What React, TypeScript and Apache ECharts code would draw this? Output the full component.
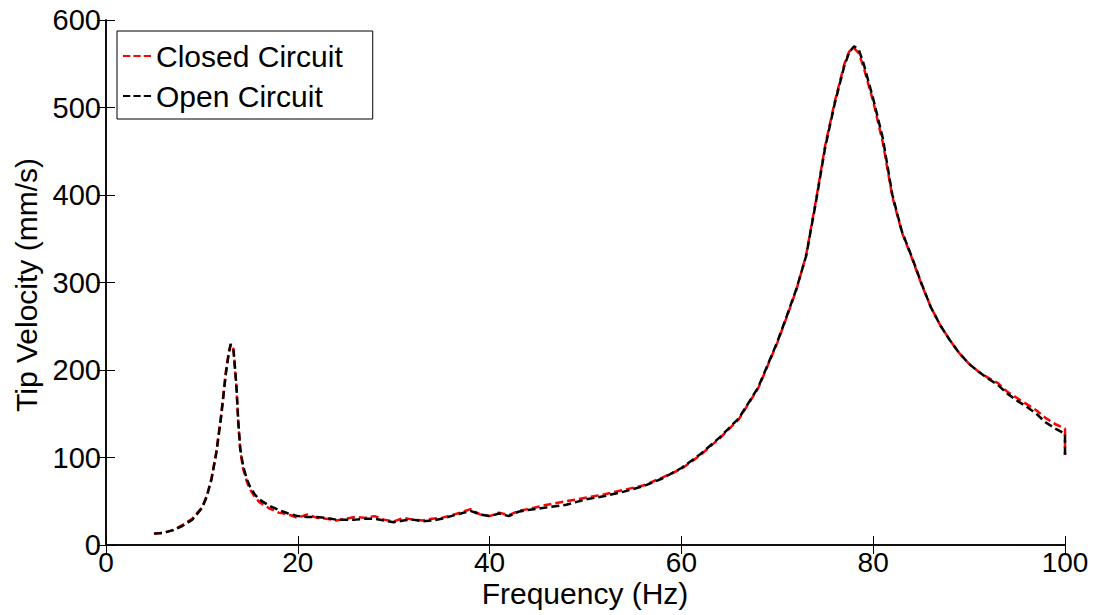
import React, { useEffect, useRef } from "react";
import * as echarts from "echarts";

const freq = [5, 6, 7, 8, 9, 10, 10.5, 11, 11.5, 12, 12.5, 12.8, 13, 13.3, 13.6, 13.8, 14, 14.3, 14.7, 15, 15.5, 16, 17, 18, 19, 20, 21, 22, 23, 24, 25, 26, 27, 28, 29, 30, 31, 32, 33, 34, 35, 36, 37, 38, 39, 40, 41, 42, 43, 44, 46, 48, 50, 52, 54, 56, 58, 60, 62, 64, 66, 68, 70, 71, 72, 73, 74, 75, 76, 77, 77.5, 78, 78.5, 79, 80, 81, 82, 83, 84, 85, 86, 87, 88, 89, 90, 91, 92, 93, 94, 95, 96, 97, 98, 99, 100, 100];

const closedCircuit = [13, 14, 17, 23, 30, 43, 56, 76, 106, 148, 198, 220, 230, 224, 180, 138, 108, 87, 72, 64, 55, 49, 42, 37, 35, 31, 35, 31, 30, 28, 30, 32, 31, 33, 29, 27, 31, 29, 28, 30, 31, 34, 37, 41, 35, 33, 37, 34, 39, 41, 46, 50, 54, 58, 63, 68, 77, 87, 103, 122, 144, 179, 231, 261, 292, 331, 392, 457, 507, 550, 564, 568, 562, 546, 507, 460, 398, 357, 329, 299, 272, 251, 234, 219, 207, 198, 191, 185, 175, 168, 161, 154, 145, 138, 133, 103];

const openCircuit = [13, 14, 17, 22, 29, 42, 55, 75, 105, 146, 196, 219, 229, 222, 182, 140, 110, 90, 75, 67, 58, 52, 45, 40, 36, 33, 32, 32, 31, 29, 29, 29, 30, 30, 28, 26, 28, 29, 27, 28, 30, 33, 36, 39, 35, 33, 36, 33, 38, 40, 43, 46, 52, 56, 61, 67, 76, 88, 104, 123, 145, 180, 232, 262, 293, 330, 390, 455, 505, 548, 563, 570, 566, 550, 510, 465, 400, 358, 330, 300, 272, 251, 234, 219, 207, 198, 190, 183, 173, 165, 158, 150, 140, 133, 127, 103];

const xTicks = [0, 20, 40, 60, 80, 100];
const yTicks = [0, 100, 200, 300, 400, 500, 600];

const FONT = "Liberation Sans, Arial, Helvetica, sans-serif";
const DASH_ICON = "path://M0,0h7v2h-7z M10,0h7v2h-7z M20,0h7v2h-7z";

export default function App() {
  const ref = useRef<HTMLDivElement>(null);
  useEffect(() => {
    if (!ref.current) return;
    const chart = echarts.init(ref.current, undefined, { renderer: "svg" });
    const axisLine = { show: true, lineStyle: { color: "#000", width: 1.5 } };
    const tick = { show: true, inside: true, length: 9, lineStyle: { color: "#000", width: 1 } };
    const xMin = xTicks[0], xMax = xTicks[xTicks.length - 1];
    const yMin = yTicks[0], yMax = yTicks[yTicks.length - 1];
    chart.setOption({
      animation: false,
      backgroundColor: "#fff",
      grid: { left: 106, right: 29, top: 20, bottom: 70, containLabel: false },
      legend: {
        left: 117,
        top: 31,
        orient: "vertical",
        backgroundColor: "#fff",
        borderColor: "#000",
        borderWidth: 1,
        padding: [10, 30, 8, 6],
        itemGap: 10,
        itemWidth: 28,
        itemHeight: 3,
        icon: DASH_ICON,
        textStyle: { fontFamily: FONT, fontSize: 30, color: "#000" },
        data: ["Closed Circuit", "Open Circuit"],
      },
      xAxis: [
        {
          type: "value",
          min: xMin,
          max: xMax,
          interval: 20,
          position: "bottom",
          axisLine,
          axisTick: tick,
          splitLine: { show: false },
          axisLabel: { fontFamily: FONT, fontSize: 28, color: "#000", margin: 3 },
        },
        {
          type: "value",
          min: xMin,
          max: xMax,
          interval: 20,
          position: "top",
          axisLine,
          axisTick: tick,
          splitLine: { show: false },
          axisLabel: { show: false },
        },
      ],
      yAxis: [
        {
          type: "value",
          min: yMin,
          max: yMax,
          interval: 100,
          position: "left",
          axisLine,
          axisTick: tick,
          splitLine: { show: false },
          axisLabel: { fontFamily: FONT, fontSize: 29, color: "#000", margin: 5 },
        },
        {
          type: "value",
          min: yMin,
          max: yMax,
          interval: 100,
          position: "right",
          axisLine,
          axisTick: tick,
          splitLine: { show: false },
          axisLabel: { show: false },
        },
      ],
      graphic: [
        {
          type: "text",
          x: 585,
          y: 593,
          style: {
            text: "Frequency (Hz)",
            fontFamily: FONT,
            fontSize: 30,
            fill: "#000",
            align: "center",
            verticalAlign: "middle",
          },
        },
        {
          type: "text",
          x: 26,
          y: 285,
          rotation: Math.PI / 2,
          style: {
            text: "Tip Velocity (mm/s)",
            fontFamily: FONT,
            fontSize: 30,
            fill: "#000",
            align: "center",
            verticalAlign: "middle",
          },
        },
      ],
      series: [
        {
          name: "Closed Circuit",
          type: "line",
          xAxisIndex: 0,
          yAxisIndex: 0,
          symbol: "none",
          smooth: false,
          lineStyle: { color: "#ff0000", width: 2.5, type: [8, 4] },
          itemStyle: { color: "#ff0000" },
          data: freq.map((f, i) => [f, closedCircuit[i]]),
        },
        {
          name: "Open Circuit",
          type: "line",
          xAxisIndex: 0,
          yAxisIndex: 0,
          symbol: "none",
          smooth: false,
          lineStyle: { color: "#000000", width: 2.5, type: [8, 4] },
          itemStyle: { color: "#000000" },
          data: freq.map((f, i) => [f, openCircuit[i]]),
        },
      ],
    });
    return () => chart.dispose();
  }, []);
  return <div ref={ref} style={{ width: 1094, height: 615, position: "absolute", left: 0, top: 0 }} />;
}
